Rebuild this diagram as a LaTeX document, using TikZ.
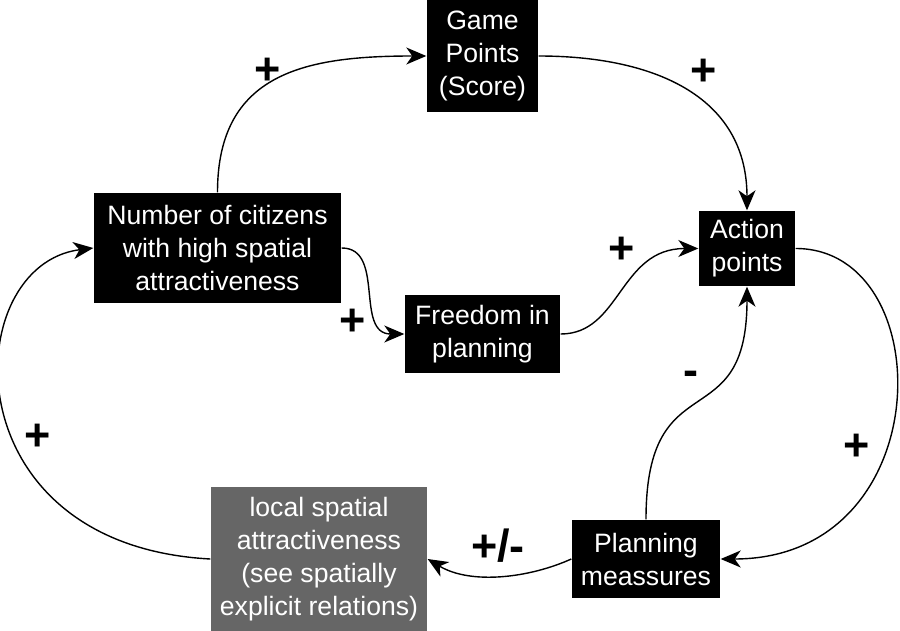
\documentclass[tikz,border=0pt]{standalone}
\usepackage{fontspec}
\setmainfont{Liberation Sans}
\usetikzlibrary{arrows.meta}

\begin{document}
\begin{tikzpicture}[x=1pt,y=-1pt,->,>={Stealth[length=20pt,width=17pt,inset=6pt]},line width=1.4pt,
    main node/.style={fill=black,text=white,inner sep=0pt,align=center,font=\fontsize{26.6}{33}\selectfont},
    grey node/.style={main node,fill=black!60},
    sign/.style={inner sep=0pt,font=\bfseries\fontsize{45}{45}\selectfont}]
                \useasboundingbox (0,0) rectangle (900,631);

                \node[main node] (gp) [minimum width=111pt, minimum height=112pt] at (482.5,56) {Game\\Points\\(Score)};
                \node[main node] (nc) [minimum width=247pt, minimum height=110pt] at (217.5,248) {Number of citizens\\with high spatial\\attractiveness};
                \node[main node] (fp) [minimum width=155pt, minimum height=78pt] at (482.5,334) {Freedom in\\planning};
                \node[main node] (ap) [minimum width=96pt, minimum height=75pt] at (747,248.5) {Action\\points};
                \node[main node] (pm) [minimum width=148pt, minimum height=78pt] at (646,559) {Planning\\meassures};
                \node[grey node] (ls) [minimum width=216pt, minimum height=144pt] at (319,559) {local spatial\\attractiveness\\(see spatially\\explicit relations)};

                \draw (nc.north) .. controls +(0,-120) and +(-120,0) .. (gp.west);
                \draw (gp.east) .. controls +(112,0) and +(0,-116) .. (ap.north);
                \draw (nc.east) .. controls +(44,0) and +(-50,0) .. (fp.west);
                \draw (fp.east) .. controls +(60,0) and +(-79,0) .. (ap.west);
                \draw (ap.east) .. controls +(145,0) and +(220,0) .. (pm.east);
                \draw (pm.north) .. controls +(0,-160) and +(0,154) .. (ap.south);
                \draw (pm.west) .. controls +(-42,19) and +(43,26) .. (ls.east);
                \draw (ls.west) .. controls +(-262,-14) and +(-135,17) .. (nc.west);

                \node[sign] (s1) at (268,71) {+};
                \node[sign] (s2) at (704,72) {+};
                \node[sign] (s3) at (353,322) {+};
                \node[sign] (s4) at (622,250) {+};
                \node[sign] (s5) at (857,447) {+};
                \node[sign] (s6) at (691,378) {-};
                \node[sign] (s7) at (38,437) {+};
                \node[sign] (s8) at (498,546) {+/-};
            \end{tikzpicture}
\end{document}
